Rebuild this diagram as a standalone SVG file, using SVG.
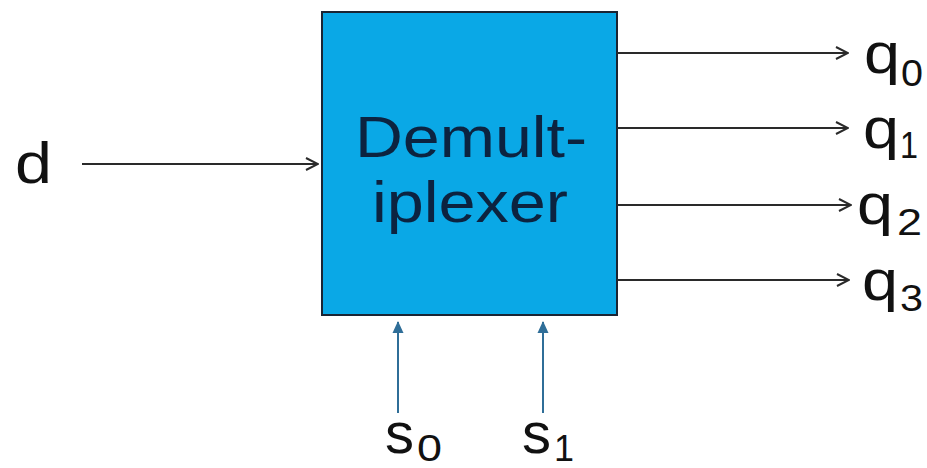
<svg xmlns="http://www.w3.org/2000/svg" width="927" height="468" viewBox="0 0 927 468">
  <defs>
    <style>
      .lbl { font-family: "Liberation Sans", Arial, sans-serif; fill: #111; }
      .main { font-size: 58px; }
      .sub { font-size: 36px; }
      .title { font-family: "Liberation Sans", Arial, sans-serif; font-size: 58px; fill: #0c2340; }
      .wire { stroke: #2a2a2a; stroke-width: 2; fill: none; }
      .sel { stroke: #2f6e98; stroke-width: 2; fill: none; }
    </style>
    <marker id="open" viewBox="0 0 14 14" refX="13" refY="7" markerWidth="14" markerHeight="14" markerUnits="userSpaceOnUse" orient="auto">
      <path d="M1,1 L13,7 L1,13" fill="none" stroke="#2a2a2a" stroke-width="2"/>
    </marker>
    <marker id="solid" viewBox="0 0 12 12" refX="11" refY="6" markerWidth="12" markerHeight="12" markerUnits="userSpaceOnUse" orient="auto">
      <path d="M0,0.5 L12,6 L0,11.5 Z" fill="#2f6e98"/>
    </marker>
  </defs>

  <rect width="927" height="468" fill="#ffffff"/>

  <!-- demultiplexer block -->
  <g id="demux">
    <rect x="322" y="12" width="295" height="303" fill="#0aa8e6" stroke="#1a2433" stroke-width="2"/>
    <text class="title" x="355" y="157" textLength="232" lengthAdjust="spacingAndGlyphs">Demult-</text>
    <text class="title" x="372" y="222" textLength="196" lengthAdjust="spacingAndGlyphs">iplexer</text>
  </g>

  <!-- input -->
  <g id="in-d">
    <text class="lbl" x="15" y="183" font-size="58" textLength="37" lengthAdjust="spacingAndGlyphs">d</text>
  </g>

  <!-- outputs -->
  <g id="out-q0">
    <text class="lbl main" x="864" y="73" textLength="36" lengthAdjust="spacingAndGlyphs">q</text>
    <text class="lbl sub" x="901" y="86" textLength="22" lengthAdjust="spacingAndGlyphs">0</text>
  </g>
  <g id="out-q1">
    <text class="lbl main" x="863" y="148" textLength="36" lengthAdjust="spacingAndGlyphs">q</text>
    <text class="lbl sub" x="900" y="158" textLength="18" lengthAdjust="spacingAndGlyphs">1</text>
  </g>
  <g id="out-q2">
    <text class="lbl main" x="857" y="224" textLength="36" lengthAdjust="spacingAndGlyphs">q</text>
    <text class="lbl sub" x="897" y="235" textLength="25" lengthAdjust="spacingAndGlyphs">2</text>
  </g>
  <g id="out-q3">
    <text class="lbl main" x="862" y="300" textLength="36" lengthAdjust="spacingAndGlyphs">q</text>
    <text class="lbl sub" x="900" y="311" textLength="23" lengthAdjust="spacingAndGlyphs">3</text>
  </g>

  <!-- select inputs -->
  <g id="sel-s0">
    <text class="lbl main" x="385" y="453" textLength="29" lengthAdjust="spacingAndGlyphs">s</text>
    <text class="lbl sub" x="417" y="461" textLength="25" lengthAdjust="spacingAndGlyphs">0</text>
  </g>
  <g id="sel-s1">
    <text class="lbl main" x="522" y="453" textLength="29" lengthAdjust="spacingAndGlyphs">s</text>
    <text class="lbl sub" x="554" y="461" textLength="20" lengthAdjust="spacingAndGlyphs">1</text>
  </g>

  <!-- connectors -->
  <g id="connectors">
    <line class="wire" x1="82" y1="164" x2="318" y2="164" marker-end="url(#open)"/>
    <line class="wire" x1="617" y1="53" x2="848" y2="53" marker-end="url(#open)"/>
    <line class="wire" x1="617" y1="128" x2="848" y2="128" marker-end="url(#open)"/>
    <line class="wire" x1="617" y1="205" x2="851" y2="205" marker-end="url(#open)"/>
    <line class="wire" x1="617" y1="280" x2="849" y2="280" marker-end="url(#open)"/>
    <line class="sel" x1="398" y1="413" x2="398" y2="322" marker-end="url(#solid)"/>
    <line class="sel" x1="543" y1="413" x2="543" y2="322" marker-end="url(#solid)"/>
  </g>
</svg>
